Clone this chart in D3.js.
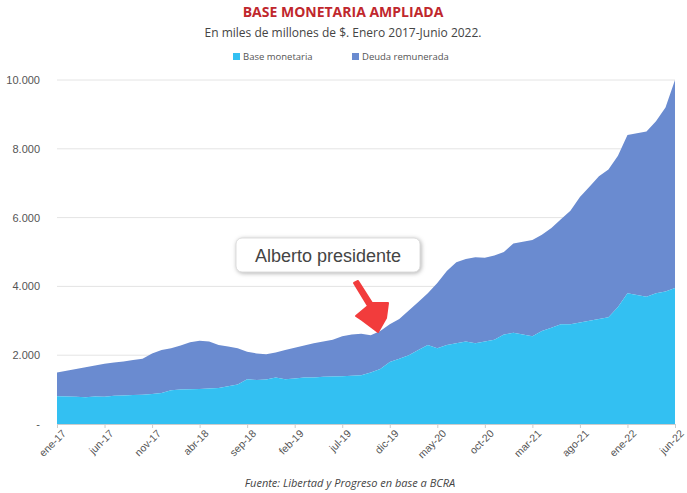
<!DOCTYPE html>
<meta charset="utf-8">
<style>
	body { margin: 0; background: #fff; font-family: "Open Sans", sans-serif; }
	.grid line { stroke: #e4e4e4; }
	.tick text { fill: #555; }
</style>
<body>
<svg id="chart" width="687" height="493"></svg>
<script src="https://cdn.jsdelivr.net/npm/d3@7"></script>
<script>
	var monthNames = ["ene","feb","mar","abr","may","jun","jul","ago","sep","oct","nov","dic"];
	// monthly values, miles de millones de $, ene-17 .. jun-22
	var total = [1500,1550,1600,1650,1700,1750,1790,1820,1860,1900,2050,2150,
		2200,2280,2380,2420,2400,2300,2250,2200,2100,2050,2030,2080,
		2150,2220,2280,2350,2400,2450,2550,2600,2620,2580,2700,2900,
		3050,3300,3550,3800,4100,4450,4700,4800,4850,4830,4900,5000,
		5250,5300,5350,5500,5700,5950,6200,6600,6900,7200,7400,7800,
		8400,8450,8500,8800,9200,10000];
	var base = [810,800,790,780,800,795,820,830,840,850,870,900,
		980,1000,1010,1020,1030,1050,1100,1150,1300,1280,1290,1350,
		1300,1320,1350,1350,1370,1380,1390,1400,1420,1500,1600,1800,
		1900,2000,2150,2300,2200,2300,2350,2400,2350,2400,2450,2600,
		2650,2600,2550,2700,2800,2900,2900,2950,3000,3050,3100,3400,
		3800,3750,3700,3800,3850,3950];
	var yTicks = [0,2000,4000,6000,8000,10000];

	var svg = d3.select("#chart");
	var x = d3.scaleLinear().domain([0, total.length - 1]).range([57, 675]);
	var y = d3.scaleLinear().domain([0, 10000]).range([424, 80]);
	var fmt = function(v) { return v === 0 ? "-" : d3.format(",")(v).replace(/,/g, "."); };

	svg.append("g").attr("class", "grid")
		.selectAll("line").data(yTicks.slice(1)).join("line")
		.attr("x1", 57).attr("x2", 675).attr("y1", y).attr("y2", y);

	var area = function(top, bot) {
		return d3.area().x(function(d, i) { return x(i); })
			.y0(function(d, i) { return y(bot(i)); })
			.y1(function(d, i) { return y(top(i)); });
	};
	svg.append("path").datum(total).attr("fill", "#6a8bd0")
		.attr("d", area(function(i) { return total[i]; }, function(i) { return base[i]; }));
	svg.append("path").datum(base).attr("fill", "#33c0f2")
		.attr("d", area(function(i) { return base[i]; }, function() { return 0; }));

	var yAxis = svg.append("g").attr("transform", "translate(57,0)")
		.call(d3.axisLeft(y).tickValues(yTicks).tickFormat(fmt).tickSize(0).tickPadding(17));
	yAxis.select(".domain").remove();
	yAxis.selectAll("text").attr("font-family", "Liberation Sans, Arial").attr("font-size", 11).attr("fill", "#555");

	var xt = d3.range(0, total.length, 5);
	var xAxis = svg.append("g").attr("transform", "translate(0,424)")
		.call(d3.axisBottom(x).tickValues(xt).tickSize(4)
			.tickFormat(function(i) { return monthNames[i % 12] + "-" + (17 + Math.floor(i / 12)); }));
	xAxis.selectAll("line, .domain").attr("stroke", "#ccc");
	xAxis.selectAll("text").attr("font-size", 10.5).attr("fill", "#555")
		.attr("text-anchor", "end").attr("transform", "translate(2,3) rotate(-45)").attr("dy", "0.3em");

	svg.append("text").attr("x", 343).attr("y", 17).attr("text-anchor", "middle")
		.attr("font-size", 14).attr("font-weight", "bold").attr("fill", "#c0272d").text("BASE MONETARIA AMPLIADA");
	svg.append("text").attr("x", 343).attr("y", 37).attr("text-anchor", "middle")
		.attr("font-size", 12).attr("fill", "#444").text("En miles de millones de $. Enero 2017-Junio 2022.");

	var legend = [["Base monetaria", "#33c0f2", 233], ["Deuda remunerada", "#6a8bd0", 352]];
	legend.forEach(function(l) {
		svg.append("rect").attr("x", l[2]).attr("y", 53).attr("width", 7).attr("height", 7).attr("fill", l[1]);
		svg.append("text").attr("x", l[2] + 10).attr("y", 60).attr("font-size", 9.5).attr("fill", "#555").text(l[0]);
	});

	svg.append("text").attr("x", 350).attr("y", 487).attr("text-anchor", "middle")
		.attr("font-size", 11).attr("font-style", "italic").attr("fill", "#444")
		.text("Fuente: Libertad y Progreso en base a BCRA");

	// annotation
	svg.append("rect").attr("x", 236).attr("y", 238).attr("width", 184).attr("height", 34).attr("rx", 6)
		.attr("fill", "#fff").attr("stroke", "#ddd").style("filter", "drop-shadow(1px 1px 2px rgba(0,0,0,0.3))");
	svg.append("text").attr("x", 328).attr("y", 262).attr("text-anchor", "middle")
		.attr("font-family", "Liberation Sans, Arial").attr("font-size", 18).attr("fill", "#444").text("Alberto presidente");
	svg.append("path")
		.attr("d", "M354,283 L358,281 L372,303 L388,303 L386,318 L378,332 L362,320 L356,316 L368,306 Z")
		.attr("fill", "#f23c3c").attr("stroke", "#f23c3c").attr("stroke-width", 2).attr("stroke-linejoin", "round");
</script>
</body>
